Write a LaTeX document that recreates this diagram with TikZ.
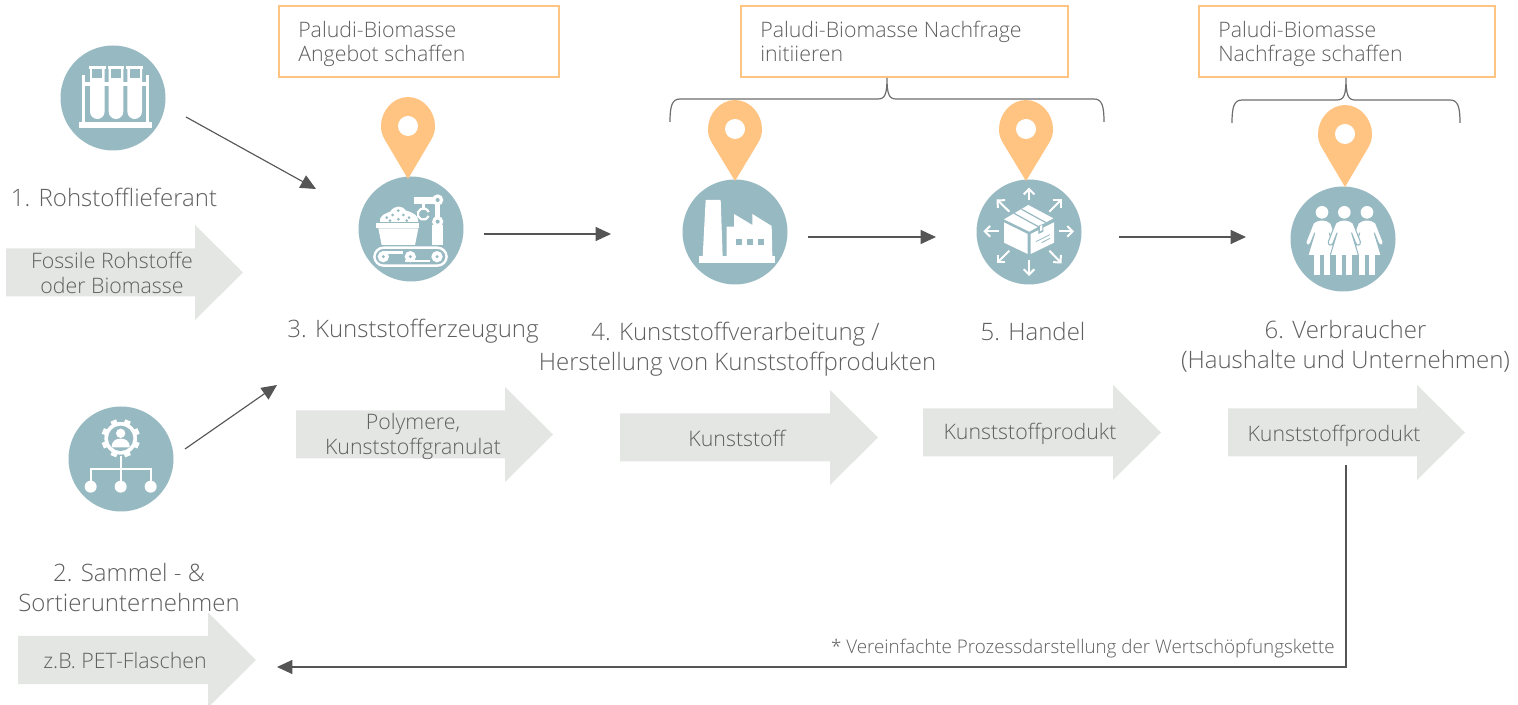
\documentclass[tikz,border=0pt]{standalone}
\usepackage{fontspec}
\setmainfont{Open Sans}[UprightFont=* Light]
\usetikzlibrary{arrows.meta}
\definecolor{teal1}{HTML}{97B9C2}
\definecolor{pinor}{HTML}{FFC382}
\definecolor{fatg}{HTML}{E4E6E4}
\definecolor{txt}{HTML}{5F5F5F}
\definecolor{conn}{HTML}{555555}
\tikzset{
 iconcirc/.style={circle,fill=teal1,inner sep=0pt,minimum size=78.75pt},
 bigtxt/.style={text=txt,font=\fontsize{18}{22.5}\selectfont,align=center,inner sep=0pt},
 smalltxt/.style={text=txt,font=\fontsize{16}{18.75}\selectfont,align=center,inner sep=0pt},
 boxtxt/.style={text=txt,font=\fontsize{16}{18}\selectfont,align=left,anchor=west,inner sep=0pt},
 notetxt/.style={text=txt,font=\fontsize{14.1}{16}\selectfont,inner sep=0pt},
 orbox/.style={draw=pinor,line width=1.5pt,fill=white,inner sep=0pt},
 conline/.style={draw=conn,line width=.85pt,-{Triangle[length=11.5pt,width=10.5pt]}},
 bracel/.style={draw=conn!85,line width=.9pt},
 icon/.style={shift={#1},x=.25pt,y=-.25pt}
}
\newcommand{\fatarrow}[5]{% x0, neck, tip, cy, name
 \fill[fatg] (#1,#4-24) -- (#2,#4-24) -- (#2,#4-47.5) -- (#3,#4) -- (#2,#4+47.5) -- (#2,#4+24) -- (#1,#4+24) -- cycle;
 \coordinate (#5) at (#2,#4);
}
\newcommand{\mappin}[3]{% cx, cy, tip
 \fill[pinor] (#1,#3) -- (#1-23,#2+14) .. controls (#1-26,#2+9) and (#1-27,#2+5) .. (#1-27,#2) .. controls (#1-27,#2-15) and (#1-15,#2-29) .. (#1,#2-29) .. controls (#1+15,#2-29) and (#1+27,#2-15) .. (#1+27,#2) .. controls (#1+27,#2+5) and (#1+26,#2+9) .. (#1+23,#2+14) -- cycle;
 \fill[white] (#1,#2) circle[radius=10];
}
\newcommand{\lady}[1]{%
 \begin{scope}[shift={(#1,367)}]
  \fill[white] (0,0) circle[radius=19];
  \fill[white] (-24,120) rectangle (-6,188);
  \fill[white] (6,120) rectangle (24,188);
  \draw[teal1,line width=.8pt,fill=white,line join=round] (42,128) -- (22,62) -- (34,92) .. controls (38,102) and (50,100) .. (48,88) -- (26,32) -- (16,26) .. controls (5,22) and (-5,22) .. (-16,26) -- (-26,32) -- (-48,88) .. controls (-50,100) and (-38,102) .. (-34,92) -- (-22,62) -- (-42,128);
 \end{scope}
}
\begin{document}
\begin{tikzpicture}[x=.75pt,y=-.75pt]
\useasboundingbox (0,0) rectangle (1518,705);
\fill[white] (0,0) rectangle (1518,705);
% fat arrows
\fatarrow{6}{195}{243}{272.5}{fa1}
\fatarrow{296}{505}{553}{434.5}{fa2}
\fatarrow{620}{830}{878}{437.5}{fa3}
\fatarrow{923}{1113}{1161}{432.5}{fa4}
\fatarrow{1228}{1417}{1465}{432.5}{fa5}
\fatarrow{18}{208}{256}{660}{fa6}
% circles
\node[iconcirc] (c1) at (113,98) {};
\node[iconcirc] (c2) at (121,459) {};
\node[iconcirc] (c3) at (411,229) {};
\node[iconcirc] (c4) at (735,232) {};
\node[iconcirc] (c5) at (1029,232) {};
\node[iconcirc] (c6) at (1343,239) {};
% icon 1: test tubes
\begin{scope}[icon={(40,30)}]
 \fill[white] (117,277) rectangle (337,293);
 \fill[white] (125,135) rectangle (135,277);
 \fill[white] (318,135) rectangle (328,277);
 \fill[white] (135,156) rectangle (318,167);
 \foreach \c in {172,228,284}{
  \fill[teal1] (\c-28,167) rectangle (\c+28,270);
  \fill[white] (\c-25,107) rectangle (\c+25,117);
  \fill[white] (\c-22,117) -- (\c-22,245) .. controls (\c-22,258) and (\c-11,267) .. (\c,267) .. controls (\c+11,267) and (\c+22,258) .. (\c+22,245) -- (\c+22,117) -- cycle;
  \fill[teal1] (\c-15,117) rectangle (\c+15,143);
 }
\end{scope}
% icon 2: organisation
\begin{scope}[icon={(60,400)}]
 \foreach \a in {0,45,...,315}{
  \draw[white,line width=4.5pt] ({182+42*cos(\a+22.5)},{115+42*sin(\a+22.5)}) -- ({182+58*cos(\a+22.5)},{115+58*sin(\a+22.5)});
 }
 \fill[white] (182,115) circle[radius=49];
 \fill[teal1] (182,115) circle[radius=38];
 \fill[white] (182,100) circle[radius=14];
 \fill[white] (155,142) .. controls (155,120) and (170,116) .. (182,116) .. controls (194,116) and (209,120) .. (209,142) -- cycle;
 \draw[white,line width=1.5pt] (182,168) -- (182,245);
 \draw[white,line width=1.5pt] (92,245) -- (92,207) -- (272,207) -- (272,245);
 \foreach \c in {92,182,272}{\fill[white] (\c,260) circle[radius=18];}
\end{scope}
% icon 3: production
\begin{scope}[icon={(340,90)}]
 \draw[white,line width=1.8pt,rounded corners=7pt] (103,473) rectangle (320,527);
 \fill[white] (130,500) circle[radius=17];
 \fill[white] (211,500) circle[radius=17];
 \fill[white] (291,500) circle[radius=17];
 \fill[white] (125,484) rectangle (190,491);
 \fill[white] (195,509) rectangle (270,516);
 \foreach \c in {130,211,291}{\fill[teal1] (\c,500) circle[radius=5];}
 \fill[white] (115,415) -- (235,415) -- (225,465) -- (125,465) -- cycle;
 \fill[white] (108,400) rectangle (238,415);
 \fill[white] (120,396) .. controls (118,375) and (135,372) .. (150,365) .. controls (165,345) and (185,345) .. (198,362) .. controls (220,368) and (235,375) .. (235,396) -- cycle;
 \foreach \x/\y in {140/383,158/375,175/362,190/375,207/383,175/388,150/392,200/392}{\fill[teal1] (\x,\y) circle[radius=4.5];}
 \fill[white] (223,322) rectangle (282,342);
 \fill[white] (276,405) rectangle (310,465);
 \draw[white,line width=3.5pt] (293,345) -- (293,382);
 \fill[white] (293,330) circle[radius=17];
 \fill[teal1] (293,330) circle[radius=6];
 \fill[white] (293,395) circle[radius=17];
 \fill[teal1] (293,395) circle[radius=6];
 \fill[white] (245,342) rectangle (255,356);
 \draw[white,line width=1.6pt] (266,378) arc[start angle=20,end angle=340,radius=17];
\end{scope}
% icon 4: factory
\begin{scope}[icon={(660,90)}]
 \fill[white] (137,330) -- (182,330) -- (188,500) -- (128,500) -- cycle;
 \fill[white] (200,500) -- (200,410) -- (222,410) -- (222,372) -- (277,405) -- (277,372) -- (335,408) -- (337,500) -- cycle;
 \fill[white] (118,498) rectangle (345,518);
 \foreach \c in {229,262,295}{\fill[teal1] (\c,448) rectangle (\c+18,466);}
\end{scope}
% icon 5: box with arrows
\begin{scope}[icon={(960,90)}]
 \fill[white] (132,397) -- (203,432) -- (203,492) -- (132,458) -- cycle;
 \fill[white] (212,432) -- (282,397) -- (282,458) -- (212,492) -- cycle;
 \fill[white] (132,388) -- (205,345) -- (280,385) -- (208,425) -- cycle;
 \draw[teal1,line width=.9pt] (162,370) -- (235,410);
 \draw[teal1,line width=.9pt] (185,358) -- (258,398);
 \fill[teal1] (235,408) -- (250,401) -- (250,425) -- (235,432) -- cycle;
 \fill[white] (240,408) -- (247,405) -- (247,420) -- (240,424) -- cycle;
 \draw[teal1,line width=.6pt] (228,455) -- (270,434);
 \draw[teal1,line width=.6pt] (245,458) -- (270,445);
 \foreach \a/\b/\c/\d in {207/330/207/293, 207/510/207/558, 117/424/70/424, 296/424/342/424, 148/365/110/328, 268/365/305/328, 148/482/110/520, 268/482/305/520}{
  \draw[white,line width=1.5pt,-{Straight Barb[length=4pt,width=8pt,line width=1.5pt]}] (\a,\b) -- (\c,\d);
 }
\end{scope}
% icon 6: people
\begin{scope}[icon={(1220,90)}]
 \lady{306}
 \lady{441}
 \lady{373}
\end{scope}
% pins
\mappin{408}{126}{179}
\mappin{735}{129}{181}
\mappin{1026}{129}{181}
\mappin{1345}{134}{187}
% boxes
\node[orbox,minimum width=210pt,minimum height=53.25pt] (b1) at (419,41.5) {};
\node[orbox,minimum width=245.25pt,minimum height=53.25pt] (b2) at (904.5,41.5) {};
\node[orbox,minimum width=222pt,minimum height=53.25pt] (b3) at (1347,41.5) {};
\node[boxtxt] (bt1) at (298,44) {Paludi-Biomasse\\Angebot schaffen};
\node[boxtxt] (bt2) at (760,41) {Paludi-Biomasse Nachfrage\\initiieren};
\node[boxtxt] (bt3) at (1218,44) {Paludi-Biomasse\\Nachfrage schaffen};
% braces
\draw[bracel] (670,122) .. controls (670,106) and (672,99) .. (680,99) -- (878,99) .. controls (885,99) and (887,94) .. (887,78) .. controls (887,94) and (889,99) .. (896,99) -- (1094,99) .. controls (1102,99) and (1104,106) .. (1104,122);
\draw[bracel] (1232,123) .. controls (1232,107) and (1234,100) .. (1242,100) -- (1337,100) .. controls (1344,100) and (1346,95) .. (1346,78) .. controls (1346,95) and (1348,100) .. (1355,100) -- (1450,100) .. controls (1458,100) and (1460,107) .. (1460,123);
% labels
\node[bigtxt] (t1) at (114,197) {1. Rohstofflieferant};
\node[bigtxt] (t2) at (129,587.5) {2. Sammel - \&\\Sortierunternehmen};
\node[bigtxt] (t3) at (413,331.5) {3. Kunststofferzeugung};
\node[bigtxt] (t4) at (737.5,349) {\hspace*{-3pt}4. Kunststoffverarbeitung /\\Herstellung von Kunststoffprodukten};
\node[bigtxt] (t5) at (1033,332) {5. Handel};
\node[bigtxt] (t6) at (1345.5,346) {6. Verbraucher\\(Haushalte und Unternehmen)};
\node[smalltxt] (f1) at (112,273) {Fossile Rohstoffe\\oder Biomasse};
\node[smalltxt] (f2) at (413,436.5) {Polymere,\\Kunststoffgranulat};
\node[smalltxt] (f3) at (737,438) {Kunststoff};
\node[smalltxt] (f4) at (1030,434) {Kunststoffprodukt};
\node[smalltxt] (f5) at (1334,435.5) {Kunststoffprodukt};
\node[smalltxt] (f6) at (125,660) {z.B. PET-Flaschen};
\node[notetxt,anchor=east] (note) at (1335,649) {* Vereinfachte Prozessdarstellung der Wertschöpfungskette};
% connectors
\coordinate (a1s) at (186,117); \coordinate (a1e) at (316,189);
\coordinate (a2s) at (185,449); \coordinate (a2e) at (277,385);
\coordinate (a3s) at (484,234); \coordinate (a3e) at (611,234);
\coordinate (a4s) at (808,237); \coordinate (a4e) at (936,237);
\coordinate (a5s) at (1119,237); \coordinate (a5e) at (1246,237);
\coordinate (a6s) at (1346,465); \coordinate (a6m) at (1346,667); \coordinate (a6e) at (277,667);
\draw[conline] (a1s) -- (a1e);
\draw[conline] (a2s) -- (a2e);
\draw[conline] (a3s) -- (a3e);
\draw[conline] (a4s) -- (a4e);
\draw[conline] (a5s) -- (a5e);
\draw[conline] (a6s) -- (a6m) -- (a6e);
\end{tikzpicture}
\end{document}
